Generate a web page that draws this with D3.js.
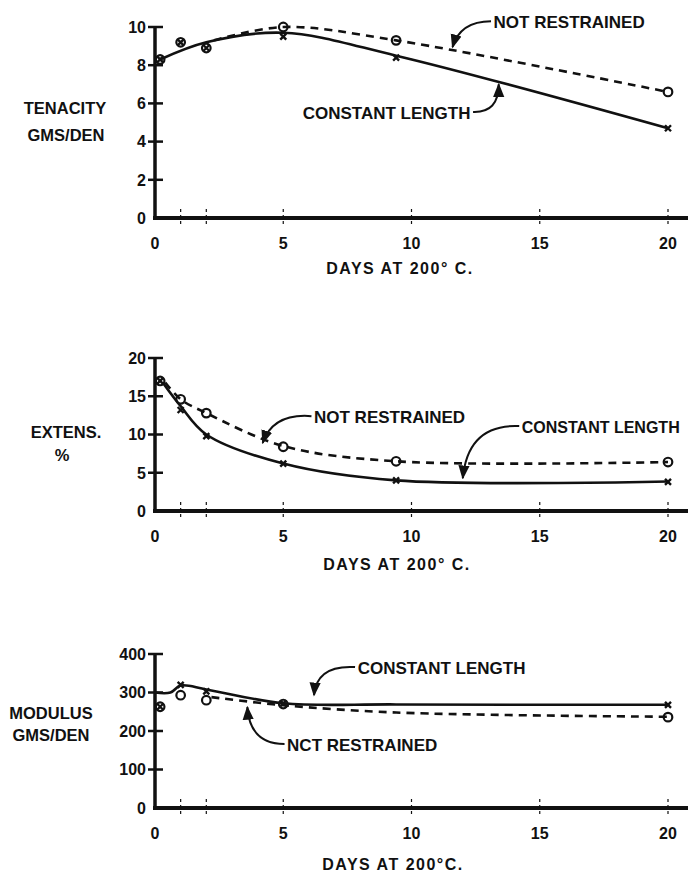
<!DOCTYPE html>
<html>
<head>
<meta charset="utf-8">
<script src="https://cdn.jsdelivr.net/npm/d3@7"></script>
<style>
body { margin: 0; background: #fff; }
text { font-family: "Liberation Sans", Arial, sans-serif; font-weight: bold; fill: #111; }
</style>
</head>
<body>
<script>
// sample days and x axis
const days = [0.2, 1, 2, 5, 9.4, 20]
const xTicks = [0, 5, 10, 15, 20]
const xMinorTicks = [1, 2, 5, 10, 15, 20]

// tenacity, gms/den
const tenacityTicks = [0, 2, 4, 6, 8, 10]
const tenacityNR = [8.3, 9.2, 8.9, 10.0, 9.3, 6.6]
const tenacityCL = [8.3, 9.2, 8.9, 9.5, 8.4, 4.7]
const tenacityCLFitDays = [0.2, 2, 5, 9.4, 20]
const tenacityCLFit = [8.3, 9.2, 9.7, 8.5, 4.7]
const tenacityNRFitDays = [2.3, 5, 9.4, 20]
const tenacityNRFit = [9.3, 10.0, 9.3, 6.6]

// extension, %
const extensionTicks = [0, 5, 10, 15, 20]
const extensionNR = [17.0, 14.6, 12.8, 8.4, 6.5, 6.4]
const extensionCL = [17.0, 13.2, 9.8, 6.2, 4.0, 3.8]
const extensionCLFitDays = [0.3, 1, 2, 5, 9.4, 20]
const extensionCLFit = [16.8, 13.7, 10.0, 6.2, 4.0, 3.85]
const extensionNRFitDays = [0.4, 1, 2, 5, 9.4, 20]
const extensionNRFit = [16.8, 14.6, 12.8, 8.5, 6.5, 6.4]

// modulus, gms/den
const modulusTicks = [0, 100, 200, 300, 400]
const modulusNR = [263, 293, 280, 270, null, 236]
const modulusCL = [263, 320, 303, 272, null, 268]
const modulusCLFitDays = [0, 0.6, 1, 2, 5, 9.4, 20]
const modulusCLFit = [300, 300, 318, 308, 272, 269, 268]
const modulusNRFitDays = [2.2, 5, 9.4, 20]
const modulusNRFit = [288, 267, 248, 237]

const width = 693, height = 877
const svg = d3.select('body').append('svg')
    .attr('width', width)
    .attr('height', height)

svg.append('defs').append('marker')
    .attr('id', 'head')
    .attr('viewBox', '0 0 10 10')
    .attr('refX', 9).attr('refY', 5)
    .attr('markerWidth', 7).attr('markerHeight', 7)
    .attr('orient', 'auto')
    .append('path')
    .attr('d', 'M0,1 L10,5 L0,9 Z')
    .attr('fill', '#111')

const x = d3.scaleLinear().domain([0, 20]).range([155, 668])

const panels = [
    {
        domain: [0, 10], range: [218, 27], ticks: tenacityTicks,
        nr: tenacityNR, cl: tenacityCL,
        nrFit: [tenacityNRFitDays, tenacityNRFit], clFit: [tenacityCLFitDays, tenacityCLFit],
        labels: [['TENACITY', 65, 114], ['GMS/DEN', 66, 141]],
        xLabel: [400, 274], xLabelText: 'DAYS AT 200° C.',
        notes: [
            {text: 'NOT RESTRAINED', at: [13.2, 10.25], from: [13.1, 10.3], ctrl: [11.9, 10.3], to: [11.6, 8.95]},
            {text: 'CONSTANT LENGTH', at: [12.3, 5.5], end: true, from: [12.4, 5.55], ctrl: [13.4, 5.5], to: [13.4, 7.0]}
        ]
    },
    {
        domain: [0, 20], range: [511, 358], ticks: extensionTicks,
        nr: extensionNR, cl: extensionCL,
        nrFit: [extensionNRFitDays, extensionNRFit], clFit: [extensionCLFitDays, extensionCLFit],
        labels: [['EXTENS.', 66, 438], ['%', 62, 461]],
        xLabel: [397, 570], xLabelText: 'DAYS AT 200° C.',
        notes: [
            {text: 'NOT RESTRAINED', at: [6.2, 12.3], from: [6.1, 12.4], ctrl: [4.6, 12.8], to: [4.2, 8.9]},
            {text: 'CONSTANT LENGTH', size: 16, at: [14.3, 11.0], from: [14.2, 11.1], ctrl: [12.2, 11.4], to: [12.0, 4.3]}
        ]
    },
    {
        domain: [0, 400], range: [808, 654], ticks: modulusTicks,
        nr: modulusNR, cl: modulusCL,
        nrFit: [modulusNRFitDays, modulusNRFit], clFit: [modulusCLFitDays, modulusCLFit],
        labels: [['MODULUS', 51, 719], ['GMS/DEN', 51, 741]],
        xLabel: [393, 870], xLabelText: 'DAYS AT 200°C.',
        notes: [
            {text: 'CONSTANT LENGTH', at: [7.9, 364], from: [7.8, 366], ctrl: [6.3, 372], to: [6.2, 293]},
            {text: 'NCT RESTRAINED', at: [5.15, 164], from: [5.05, 166], ctrl: [3.7, 166], to: [3.6, 262]}
        ]
    }
]

function pairs(xs, ys) {
    return xs.map((d, i) => [d, ys[i]])
}

panels.forEach(p => {
    const y = d3.scaleLinear().domain(p.domain).range(p.range)
    const g = svg.append('g')
    const base = y(0)

    // y axis
    g.append('line')
        .attr('x1', x(0)).attr('x2', x(0))
        .attr('y1', base + 2).attr('y2', y(p.domain[1]))
        .attr('stroke', '#111').attr('stroke-width', 3.5)
    g.selectAll('.ytick').data(p.ticks.slice(1)).join('line')
        .attr('x1', x(0) - 7).attr('x2', x(0) + 8)
        .attr('y1', d => y(d)).attr('y2', d => y(d))
        .attr('stroke', '#111').attr('stroke-width', 2.5)
    g.selectAll('.ylab').data(p.ticks).join('text')
        .attr('x', x(0) - 9)
        .attr('y', d => y(d))
        .attr('dy', '0.36em')
        .attr('text-anchor', 'end')
        .attr('font-size', 16)
        .text(d => d)

    // x axis
    g.append('line')
        .attr('x1', x(0) - 2).attr('x2', 688)
        .attr('y1', base).attr('y2', base)
        .attr('stroke', '#111').attr('stroke-width', 4)
    g.selectAll('.xminor').data(xMinorTicks).join('line')
        .attr('x1', d => x(d)).attr('x2', d => x(d))
        .attr('y1', base - 9).attr('y2', base + 9)
        .attr('stroke', '#111').attr('stroke-width', 1.2)
        .attr('stroke-dasharray', '3,3')
    g.selectAll('.xlab').data(xTicks).join('text')
        .attr('x', d => x(d))
        .attr('y', base + 31)
        .attr('text-anchor', 'middle')
        .attr('font-size', 16)
        .text(d => d)
    g.append('text')
        .attr('x', p.xLabel[0]).attr('y', p.xLabel[1])
        .attr('text-anchor', 'middle')
        .attr('font-size', 16)
        .attr('letter-spacing', 1.5)
        .text(p.xLabelText)

    p.labels.forEach(l => {
        g.append('text')
            .attr('x', l[1]).attr('y', l[2])
            .attr('text-anchor', 'middle')
            .attr('font-size', 16.5)
            .text(l[0])
    })

    // curves
    const line = d3.line()
        .x(d => x(d[0]))
        .y(d => y(d[1]))
        .curve(d3.curveCatmullRom.alpha(0.5))
    g.append('path')
        .attr('d', line(pairs(...p.clFit)))
        .attr('fill', 'none').attr('stroke', '#111').attr('stroke-width', 2.6)
    g.append('path')
        .attr('d', line(pairs(...p.nrFit)))
        .attr('fill', 'none').attr('stroke', '#111').attr('stroke-width', 2.6)
        .attr('stroke-dasharray', '8,6')

    // markers
    const clPts = pairs(days, p.cl).filter(d => d[1] != null)
    const nrPts = pairs(days, p.nr).filter(d => d[1] != null)
    g.selectAll('.cl').data(clPts).join('path')
        .attr('d', d => {
            const cx = x(d[0]), cy = y(d[1]), s = 3
            return `M${cx - s},${cy - s}L${cx + s},${cy + s}M${cx + s},${cy - s}L${cx - s},${cy + s}`
        })
        .attr('stroke', '#111').attr('stroke-width', 2.4)
    g.selectAll('.nr').data(nrPts).join('circle')
        .attr('cx', d => x(d[0])).attr('cy', d => y(d[1]))
        .attr('r', 4.3)
        .attr('fill', 'none').attr('stroke', '#111').attr('stroke-width', 2.2)

    // annotations
    p.notes.forEach(n => {
        g.append('text')
            .attr('x', x(n.at[0])).attr('y', y(n.at[1]))
            .attr('dy', '0.36em')
            .attr('text-anchor', n.end ? 'end' : 'start')
            .attr('font-size', n.size || 17)
            .text(n.text)
        const path = d3.path()
        path.moveTo(x(n.from[0]), y(n.from[1]))
        path.quadraticCurveTo(x(n.ctrl[0]), y(n.ctrl[1]), x(n.to[0]), y(n.to[1]))
        g.append('path')
            .attr('d', path.toString())
            .attr('fill', 'none').attr('stroke', '#111').attr('stroke-width', 2)
            .attr('marker-end', 'url(#head)')
    })
})
</script>
</body>
</html>
